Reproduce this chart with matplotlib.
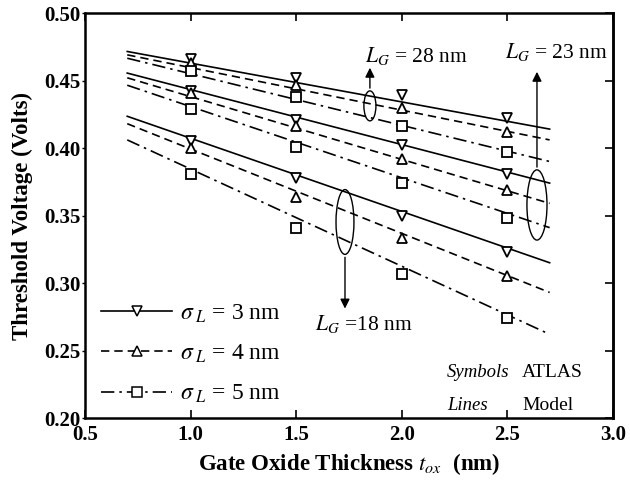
import matplotlib
matplotlib.use("Agg")
import matplotlib.pyplot as plt
from matplotlib.lines import Line2D
from matplotlib.patches import Ellipse

plt.rcParams['font.family'] = ['Liberation Serif', 'DejaVu Serif']
plt.rcParams['mathtext.fontset'] = 'stix'

# ATLAS simulation points (symbols)
tox_sim = [1.0, 1.5, 2.0, 2.5]
atlas = {
    ('28', 3): [0.466, 0.452, 0.439, 0.422],
    ('28', 4): [0.463, 0.447, 0.430, 0.412],
    ('28', 5): [0.457, 0.438, 0.416, 0.397],
    ('23', 3): [0.442, 0.421, 0.402, 0.381],
    ('23', 4): [0.441, 0.416, 0.392, 0.369],
    ('23', 5): [0.429, 0.401, 0.374, 0.348],
    ('18', 3): [0.405, 0.378, 0.350, 0.323],
    ('18', 4): [0.400, 0.364, 0.333, 0.305],
    ('18', 5): [0.381, 0.341, 0.307, 0.274],
}

# Model lines (straight), values at ends
tox_model = [0.7, 2.7]
model = {
    ('28', 3): [0.4715, 0.414],
    ('28', 4): [0.469, 0.406],
    ('28', 5): [0.4665, 0.390],
    ('23', 3): [0.4555, 0.374],
    ('23', 4): [0.452, 0.359],
    ('23', 5): [0.4465, 0.341],
    ('18', 3): [0.4235, 0.315],
    ('18', 4): [0.418, 0.293],
    ('18', 5): [0.406, 0.262],
}

sigmas = [3, 4, 5]
styles = {3: '-', 4: (0, (5, 3)), 5: (0, (8, 3, 1.5, 3))}
markers = {3: 'v', 4: '^', 5: 's'}
xticks = [0.5, 1.0, 1.5, 2.0, 2.5, 3.0]
yticks = [0.20, 0.25, 0.30, 0.35, 0.40, 0.45, 0.50]

fig = plt.figure(figsize=(6.3, 4.8), dpi=100)
ax = fig.add_axes([85/630, 1-418/480, (613-85)/630, (418-13)/480])

for (lg, s), vals in model.items():
    ax.plot(tox_model, vals, color='black', lw=1.2, linestyle=styles[s])
for (lg, s), vals in atlas.items():
    ax.plot(tox_sim, vals, linestyle='none', marker=markers[s], ms=6.5,
            mfc='white', mec='black', mew=1.3)

ax.set_xlim(0.5, 3.0)
ax.set_ylim(0.20, 0.50)
ax.set_xticks(xticks)
ax.set_yticks(yticks)
ax.set_xticklabels([f"{v:.1f}" for v in xticks], fontweight='bold', fontsize=15)
ax.set_yticklabels([f"{v:.2f}" for v in yticks], fontweight='bold', fontsize=15)
ax.tick_params(axis='x', direction='in', top=True, length=6, width=1.2, pad=5)
ax.tick_params(axis='y', direction='out', length=2, width=1.0, pad=1)
sec = ax.secondary_yaxis('right')
sec.set_yticks(yticks)
sec.set_yticklabels([])
sec.tick_params(direction='in', length=6, width=1.2)
for sp in list(ax.spines.values()) + [sec.spines['right']]:
    sp.set_linewidth(1.8)

ax.set_xlabel(r"Gate Oxide Thickness $t_{ox}$  (nm)", fontweight='bold', fontsize=16.5)
ax.set_ylabel("Threshold Voltage (Volts)", fontweight='bold', fontsize=16.5)
ax.xaxis.set_label_coords(0.5, -0.082)
ax.yaxis.set_label_coords(-0.098, 0.5)

# Legend
handles = [Line2D([], [], color='black', lw=1.2, linestyle=styles[s], marker=markers[s],
                  ms=6.5, mfc='white', mec='black', mew=1.1) for s in sigmas]
labels = [rf"$\sigma_{{\ L}}$ = {s} nm" for s in sigmas]
ax.legend(handles, labels, loc='lower left', bbox_to_anchor=(-0.005, -0.015), frameon=False,
          fontsize=17, handlelength=3.0, labelspacing=0.76, handletextpad=0.35, borderpad=0.3)

# Ellipses and arrows
arrow = dict(arrowstyle='-|>', color='black', lw=1.0, mutation_scale=14)
ax.add_patch(Ellipse((1.849, 0.4312), 0.057, 0.0222, fill=False, ec='black', lw=1.0))
ax.annotate('', xy=(1.849, 0.4615), xytext=(1.849, 0.4423), arrowprops=arrow)
ax.text(1.826, 0.468, r"$L_G$ = 28 nm", fontsize=15.5, va='center', ha='left')

ax.add_patch(Ellipse((2.640, 0.3578), 0.095, 0.052, fill=False, ec='black', lw=1.0))
ax.annotate('', xy=(2.640, 0.4585), xytext=(2.640, 0.3838), arrowprops=arrow)
ax.text(2.489, 0.471, r"$L_G$ = 23 nm", fontsize=15.5, va='center', ha='left')

ax.add_patch(Ellipse((1.731, 0.3452), 0.085, 0.048, fill=False, ec='black', lw=1.0))
ax.annotate('', xy=(1.731, 0.279), xytext=(1.731, 0.3211), arrowprops=arrow)
ax.text(1.589, 0.270, r"$L_G$ =18 nm", fontsize=15.5, va='center', ha='left')

ax.text(2.214, 0.234, "Symbols", fontstyle='italic', fontsize=13.5, va='center')
ax.text(2.569, 0.234, "ATLAS", fontsize=14, va='center')
ax.text(2.214, 0.2096, "Lines", fontstyle='italic', fontsize=13.5, va='center')
ax.text(2.569, 0.2096, "Model", fontsize=14, va='center')

fig.savefig("out.png", dpi=100)
